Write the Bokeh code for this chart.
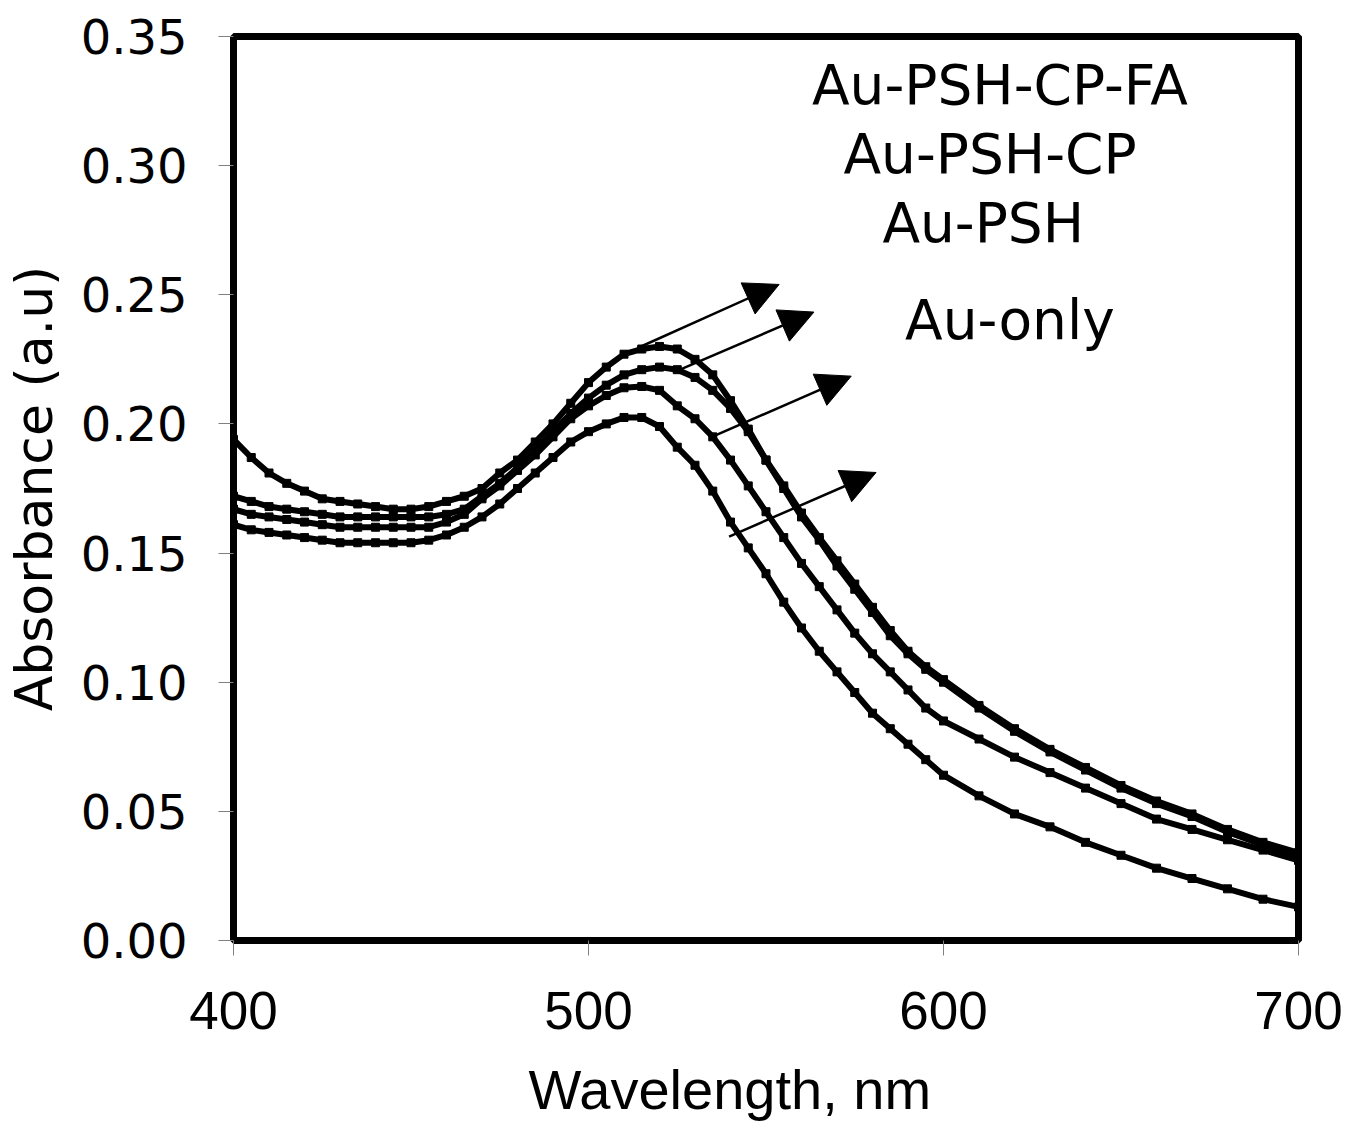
from bokeh.plotting import figure
from bokeh.models import Range1d, FixedTicker, PrintfTickFormatter, Arrow, NormalHead, ColumnDataSource, Title
from bokeh.core.properties import value
from bokeh.embed import file_html
from bokeh.resources import INLINE

# ---- data ----
wavelength = [400, 405, 410, 415, 420, 425, 430, 435, 440, 445, 450, 455, 460, 465, 470,
              475, 480, 485, 490, 495, 500, 505, 510, 515, 520, 525, 530, 535, 540, 545,
              550, 555, 560, 565, 570, 575, 580, 585, 590, 595, 600, 610, 620, 630, 640,
              650, 660, 670, 680, 690, 700]

au_psh_cp_fa = [0.194, 0.187, 0.181, 0.177, 0.174, 0.171, 0.170, 0.169, 0.168, 0.167, 0.167,
                0.168, 0.170, 0.172, 0.175, 0.181, 0.186, 0.193, 0.200, 0.208, 0.216, 0.222,
                0.227, 0.229, 0.230, 0.229, 0.225, 0.219, 0.209, 0.198, 0.186, 0.176, 0.1655,
                0.156, 0.147, 0.138, 0.129, 0.120, 0.112, 0.106, 0.101, 0.091, 0.082, 0.074,
                0.067, 0.060, 0.054, 0.049, 0.043, 0.038, 0.034]

au_psh_cp = [0.172, 0.170, 0.168, 0.167, 0.166, 0.165, 0.164, 0.164, 0.164, 0.164, 0.164,
             0.164, 0.165, 0.167, 0.172, 0.177, 0.183, 0.190, 0.197, 0.204, 0.210, 0.215,
             0.219, 0.221, 0.222, 0.221, 0.218, 0.213, 0.206, 0.197, 0.186, 0.175, 0.164,
             0.155, 0.145, 0.136, 0.127, 0.118, 0.111, 0.105, 0.100, 0.090, 0.081, 0.073,
             0.066, 0.059, 0.053, 0.048, 0.042, 0.037, 0.033]

au_psh = [0.167, 0.165, 0.164, 0.163, 0.162, 0.161, 0.160, 0.160, 0.160, 0.160, 0.160,
          0.160, 0.162, 0.165, 0.171, 0.176, 0.182, 0.188, 0.195, 0.202, 0.207, 0.211,
          0.214, 0.2145, 0.213, 0.207, 0.202, 0.195, 0.186, 0.176, 0.166, 0.156, 0.146,
          0.137, 0.128, 0.119, 0.111, 0.104, 0.097, 0.090, 0.085, 0.078, 0.071, 0.065,
          0.059, 0.053, 0.047, 0.043, 0.039, 0.035, 0.031]

au_only = [0.161, 0.159, 0.158, 0.157, 0.156, 0.155, 0.154, 0.154, 0.154, 0.154, 0.154,
           0.155, 0.157, 0.160, 0.164, 0.169, 0.175, 0.181, 0.187, 0.193, 0.197, 0.200,
           0.2025, 0.2025, 0.199, 0.191, 0.184, 0.174, 0.162, 0.152, 0.142, 0.131, 0.121,
           0.112, 0.104, 0.096, 0.088, 0.082, 0.076, 0.070, 0.064, 0.056, 0.049, 0.044,
           0.038, 0.033, 0.028, 0.024, 0.020, 0.016, 0.013]

series = [au_psh_cp_fa, au_psh_cp, au_psh, au_only]

labels = ["Au-PSH-CP-FA", "Au-PSH-CP", "Au-PSH", "Au-only"]
label_x = [615.9, 613.1, 611.2, 618.7]
label_y = [0.3312, 0.3044, 0.2777, 0.2404]

arrow_x0 = [513.7, 526.1, 535.1, 539.6]
arrow_y0 = [0.2293, 0.2212, 0.1952, 0.1564]
arrow_x1 = [553.7, 563.5, 574.0, 581.0]
arrow_y1 = [0.2540, 0.2433, 0.2185, 0.1812]

x_ticks = [400, 500, 600, 700]
y_ticks = [0.00, 0.05, 0.10, 0.15, 0.20, 0.25, 0.30, 0.35]

x_title = "Wavelength, nm"

# ---- figure ----
p = figure(width=1346, height=1146, output_backend="svg", toolbar_location=None,
           x_range=Range1d(400, 700), y_range=Range1d(0, 0.35),
           min_border_left=232, min_border_top=36, min_border_right=48, min_border_bottom=206)
p.background_fill_color = "white"
p.border_fill_color = "white"
p.outline_line_color = "black"
p.outline_line_width = 7
p.xgrid.visible = False
p.ygrid.visible = False

for ys in series:
    p.line(wavelength, ys, line_color="black", line_width=6)
    p.scatter(wavelength, ys, marker="square", size=8, fill_color="black", line_color="black")

for i in range(len(labels)):
    p.add_layout(Arrow(end=NormalHead(size=34, fill_color="black", line_color="black", line_width=1),
                       x_start=arrow_x0[i], y_start=arrow_y0[i],
                       x_end=arrow_x1[i], y_end=arrow_y1[i],
                       line_color="black", line_width=2.5))

src = ColumnDataSource(dict(x=label_x, y=label_y, t=labels))
p.text(x="x", y="y", text="t", source=src, text_font=value("DejaVu Sans"),
       text_font_size="55px", text_align="center", text_baseline="alphabetic", text_color="black")

# axes
p.xaxis.ticker = FixedTicker(ticks=x_ticks)
p.yaxis.ticker = FixedTicker(ticks=y_ticks)
p.yaxis.formatter = PrintfTickFormatter(format="%.2f")
for ax in (p.xaxis[0], p.yaxis[0]):
    ax.axis_line_color = None
    ax.major_tick_line_color = "#808080"
    ax.major_tick_line_width = 1
    ax.major_tick_in = 0
    ax.major_tick_out = 15
    ax.minor_tick_line_color = None
    ax.major_label_text_color = "black"
    ax.axis_label_text_color = "black"
    ax.axis_label_text_font_style = "normal"

p.xaxis.major_label_text_font = "Liberation Sans"
p.xaxis.major_label_text_font_size = "53px"
p.xaxis.major_label_standoff = 36

# x-axis title, sitting a little left of centre as in the original
p.add_layout(Title(text=x_title, align="left", offset=295, standoff=48,
                   text_font="Liberation Sans", text_font_size="56px",
                   text_font_style="normal", text_color="black"), "below")

p.yaxis.major_label_text_font = "DejaVu Sans"
p.yaxis.major_label_text_font_size = "48px"
p.yaxis.major_label_standoff = 31
p.yaxis.axis_label = "Absorbance (a.u)"
p.yaxis.axis_label_text_font = "DejaVu Sans"
p.yaxis.axis_label_text_font_size = "52px"
p.yaxis.axis_label_standoff = 14

open("out.html", "w").write(file_html(p, INLINE))
